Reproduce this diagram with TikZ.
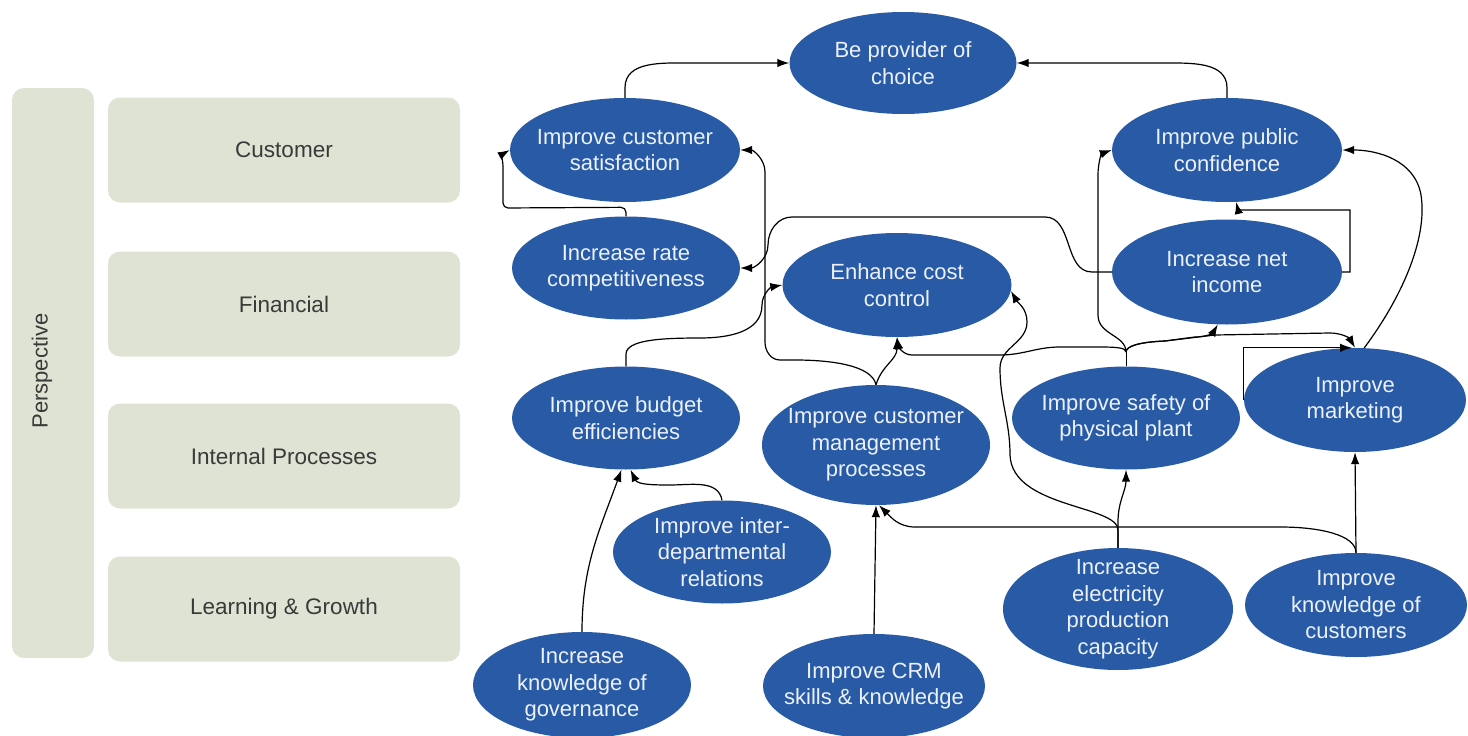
\documentclass[tikz,border=0pt]{standalone}
\usepackage{fontspec}
\setmainfont{Liberation Sans}
\usetikzlibrary{shapes.geometric,arrows.meta}
\definecolor{goalblue}{RGB}{40,90,166}
\definecolor{goaltext}{RGB}{236,241,250}
\definecolor{rowgreen}{RGB}{222,227,212}
\definecolor{rowtext}{RGB}{58,58,58}
\tikzset{
  goal/.style={ellipse, fill=goalblue, text=goaltext, align=center,
    inner xsep=-20pt, inner ysep=-15pt, font=\fontsize{22}{26.5}\selectfont},
  rowbox/.style={fill=rowgreen, rounded corners=12pt, text=rowtext,
    minimum width=352pt, minimum height=105pt, font=\fontsize{22.5}{27}\selectfont},
  link/.style={-{Latex[length=12pt,width=8.5pt]}, line width=1.2pt},
}
\begin{document}
\begin{tikzpicture}[x=1pt,y=1pt]
\useasboundingbox (0,0) rectangle (1468,-736);

\node[rowbox, minimum width=82pt, minimum height=570pt] (persp) at (53,-373) {};
\node[rotate=90, text=rowtext, font=\fontsize{22}{26}\selectfont] (persplabel) at (42,-371) {Perspective};
\node[rowbox] (customer) at (284,-150) {Customer};
\node[rowbox] (financial) at (284,-304) {Financial};
\node[rowbox] (internal) at (284,-456) {Internal Processes};
\node[rowbox] (learning) at (284,-609) {Learning \& Growth};

\node[goal, minimum width=227pt, minimum height=102pt] (provider) at (903,-63) {Be provider of\\choice};
\node[goal, minimum width=230pt, minimum height=104pt] (custsat) at (625,-150) {Improve customer\\satisfaction};
\node[goal, minimum width=230pt, minimum height=104pt] (pubconf) at (1227,-150) {Improve public\\confidence};
\node[goal, minimum width=228pt, minimum height=103pt] (ratecomp) at (626,-268) {Increase rate\\competitiveness};
\node[goal, minimum width=229pt, minimum height=104pt] (costctl) at (897,-285) {Enhance cost\\control};
\node[goal, minimum width=230pt, minimum height=105pt] (netinc) at (1227,-272) {Increase net\\income};
\node[goal, minimum width=228pt, minimum height=103pt] (budget) at (626,-418) {Improve budget\\efficiencies};
\node[goal, minimum width=228pt, minimum height=120pt] (custmgmt) at (876,-445) {Improve customer\\management\\processes};
\node[goal, minimum width=228pt, minimum height=103pt] (safety) at (1126,-418) {Improve safety of\\physical plant};
\node[goal, minimum width=222pt, minimum height=104pt] (marketing) at (1355,-400) {Improve\\marketing};
\node[goal, minimum width=218pt, minimum height=103pt] (interdept) at (722,-552) {Improve inter-\\departmental\\relations};
\node[goal, minimum width=230pt, minimum height=122pt] (elec) at (1118,-609) {Increase\\electricity\\production\\capacity};
\node[goal, minimum width=222pt, minimum height=104pt] (knowcust) at (1356,-605) {Improve\\knowledge of\\customers};
\node[goal, minimum width=218pt, minimum height=106pt] (govern) at (582,-685) {Increase\\knowledge of\\governance};
\node[goal, minimum width=222pt, minimum height=104pt] (crm) at (874,-686) {Improve CRM\\skills \& knowledge};

\coordinate (sj) at (1126,-352);

\draw[link] (custsat.north) -- ++(0,10) to[out=90,in=180] (690,-63) -- (provider.west);
\draw[link] (pubconf.north) -- ++(0,10) to[out=90,in=0] (1165,-63) -- (provider.east);
\draw[link, rounded corners=5pt] (ratecomp.north) -- ++(0,9) -- (503,-208) -- (503,-172) to[out=90,in=210] (custsat.west);
\draw[link] (custmgmt.north) .. controls (872,-365) and (830,-360) .. (795,-360) -- (780,-360) to[out=180,in=-90] (765,-342) -- (765,-172) to[out=90,in=0] (custsat.east);
\draw[link] (custmgmt.north) .. controls (882,-365) and (897,-360) .. (costctl.south);
\draw[link] (budget.north) -- ++(0,12) .. controls (626,-340) and (660,-338) .. (700,-338) to[out=0,in=-90] (762,-305) to[out=90,in=190] (costctl.west);
\draw[link] (netinc.west) -- (1092,-272) to[out=180,in=0] (1045,-217) -- (792,-217) to[out=180,in=90] (768,-245) to[out=-90,in=0] (ratecomp.east);
\draw[link] (netinc.east) -| (1350,-210) -- (1238,-210) -- (pubconf.-80);
\draw (safety.north) -- (sj);
\draw[link] (sj) .. controls (1126,-335) and (1098,-335) .. (1098,-315) -- (1098,-175) to[out=90,in=200] (pubconf.west);
\draw[link] (sj) .. controls (1126,-348) and (1118,-347) .. (1100,-347) -- (1060,-347) to[out=180,in=0] (1000,-355) -- (912,-355) to[out=180,in=-80] (costctl.south);
\draw[link] (sj) .. controls (1126,-346) and (1140,-342) .. (1165,-341) -- (1195,-337) to[out=0,in=-120] (netinc.-100);
\draw[link] (sj) .. controls (1126,-346) and (1140,-342) .. (1165,-341) -- (1215,-335) -- (1330,-333) to[out=0,in=120] (marketing.north);
\draw[link] (marketing.80) .. controls (1400,-300) and (1428,-240) .. (1421,-195) to[out=100,in=0] (pubconf.east);
\draw[link] (marketing.west) |- ([xshift=-3pt]marketing.north);
\draw[link] (elec.north) -- (1118,-522) to[out=90,in=-90] (safety.south);
\draw[link] (elec.north) -- (1118,-530) .. controls (1118,-505) and (1012,-508) .. (1010,-455) to[out=90,in=-90] (1000,-368) to[out=90,in=-90] (1027,-322) to[out=90,in=-60] (costctl.-3);
\draw[link] (knowcust.north) -- (marketing.south);
\draw[link] (knowcust.north) .. controls (1356,-535) and (1320,-527) .. (1280,-527) -- (915,-527) to[out=180,in=-45] ([xshift=3pt]custmgmt.south);
\draw[link] (crm.north) -- (custmgmt.south);
\draw[link] (interdept.north) to[out=100,in=0] (670,-485) to[out=180,in=-65] (budget.-85);
\draw[link] (govern.north) to[out=90,in=-110] (budget.-95);
\end{tikzpicture}
\end{document}
